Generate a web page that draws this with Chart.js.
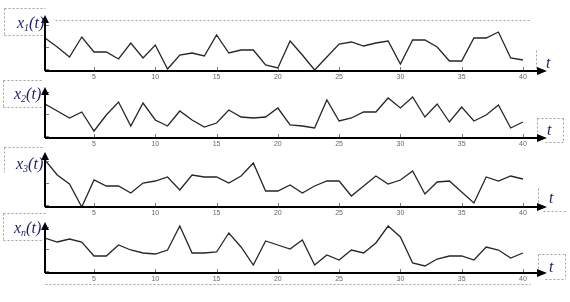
<!DOCTYPE html>
<html>
<head>
<meta charset="utf-8">
<script src="https://cdn.jsdelivr.net/npm/chart.js@4"></script>
<style>
body{margin:0;background:#fff;}
#wrap{position:relative;width:570px;height:302px;overflow:hidden;}
canvas{position:absolute;left:0;top:0;}
.lbl{position:absolute;font-family:'Liberation Serif','DejaVu Serif',serif;font-style:italic;color:#1d1d6b;font-size:16px;line-height:16px;white-space:nowrap;}
.lbl sub{font-size:10px;line-height:0;vertical-align:-3px;}
</style>
</head>
<body>
<div id="wrap">
  <canvas id="c1" width="570" height="302"></canvas>
  <canvas id="c2" width="570" height="302"></canvas>
  <canvas id="c3" width="570" height="302"></canvas>
  <canvas id="c4" width="570" height="302"></canvas>
  <div class="lbl" style="left:17px;top:15px">x<sub>1</sub>(t)</div>
  <div class="lbl" style="left:14px;top:86px">x<sub>2</sub>(t)</div>
  <div class="lbl" style="left:16px;top:156px">x<sub>3</sub>(t)</div>
  <div class="lbl" style="left:14px;top:220px">x<sub>n</sub>(t)</div>
  <div class="lbl" style="left:546px;top:55px">t</div>
  <div class="lbl" style="left:547px;top:122px">t</div>
  <div class="lbl" style="left:549px;top:190px">t</div>
  <div class="lbl" style="left:549px;top:259px">t</div>
</div>
<script>
// time steps
const t = [1,2,3,4,5,6,7,8,9,10,11,12,13,14,15,16,17,18,19,20,
           21,22,23,24,25,26,27,28,29,30,31,32,33,34,35,36,37,38,39,40];
const xTicks = [5,10,15,20,25,30,35,40];
const yMarks = [2,24,46];

// series values (arbitrary units)
const x1 = [33,24,14,34,19,19,12,28,13,26,2,16,18,15,36,18,21,21,6,3,
            30,16,1,14,27,29,25,28,30,7,31,31,24,10,10,33,33,39,13,11];
const x2 = [34,27,20,26,7,23,36,12,35,18,12,27,18,11,15,28,21,20,21,30,
            13,12,10,38,17,20,26,26,40,30,41,21,34,16,31,17,23,33,10,16];
const x3 = [47,32,23,0,27,21,21,14,24,26,30,17,32,30,30,24,31,44,16,16,
            22,14,21,26,26,11,21,31,23,27,36,13,25,26,15,4,30,26,31,28];
const xn = [35,31,34,31,17,17,28,23,20,19,23,47,20,20,21,40,26,8,32,28,
            24,33,8,18,13,23,20,30,47,36,10,7,14,17,17,13,26,23,15,20];

// panel layout: canvas id, series, axis line y, arrow top y, y max, dotted bits
const panels = [
  {id:'c1', data:x1, axis:71, top:15, ymax:56,
   dots:[[4,8,45,8],[4,8,4,35],[4,35,45,35],[55,20,530,20],[536,50,536,70]]},
  {id:'c2', data:x2, axis:138, top:87, ymax:51,
   dots:[[3,80,43,80],[3,80,3,107],[3,107,43,107],[537,118,563,118],[537,118,537,134],[545,142,563,142],[563,118,563,142]]},
  {id:'c3', data:x3, axis:207, top:152, ymax:55,
   dots:[[4,147,43,147],[4,147,4,172],[538,188,538,204],[543,211,567,211]]},
  {id:'c4', data:xn, axis:273, top:222, ymax:51,
   dots:[[3,213,45,213],[3,213,3,240],[3,240,43,240],[45,284,530,284],[538,254,565,254],[538,254,538,268],[545,279,565,279],[565,254,565,279]]}
];

const decor = {
  id: 'decor',
  afterDraw(chart, args, o) {
    const ctx = chart.ctx, a = chart.chartArea;
    const xs = chart.scales.x, ys = chart.scales.y;
    ctx.save();
    ctx.lineWidth = 1;
    ctx.strokeStyle = '#a0a0a0';
    ctx.setLineDash([2, 2]);
    (o.dots || []).forEach(s => {
      ctx.beginPath();
      ctx.moveTo(s[0] + .5, s[1] + .5);
      ctx.lineTo(s[2] + .5, s[3] + .5);
      ctx.stroke();
    });
    ctx.setLineDash([]);
    ctx.strokeStyle = '#777';
    ctx.beginPath();
    xTicks.forEach(v => {
      const x = Math.round(xs.getPixelForValue(v)) + .5;
      ctx.moveTo(x, a.bottom - 4);
      ctx.lineTo(x, a.bottom);
    });
    yMarks.forEach(v => {
      const y = Math.round(ys.getPixelForValue(v)) + .5;
      ctx.moveTo(a.left, y);
      ctx.lineTo(a.left + 4, y);
    });
    ctx.stroke();
    // tick labels under the axis
    ctx.fillStyle = '#666';
    ctx.font = '7px "Liberation Sans", Arial, sans-serif';
    ctx.textAlign = 'center';
    ctx.textBaseline = 'middle';
    xTicks.forEach(v => ctx.fillText(String(v), xs.getPixelForValue(v), a.bottom + 6));
    // axes with arrows
    ctx.strokeStyle = '#000';
    ctx.fillStyle = '#000';
    ctx.lineWidth = 2;
    ctx.beginPath();
    ctx.moveTo(a.left, a.bottom);
    ctx.lineTo(a.right - 6, a.bottom);
    ctx.moveTo(a.left, a.bottom);
    ctx.lineTo(a.left, a.top + 6);
    ctx.stroke();
    ctx.beginPath();
    ctx.moveTo(a.right + 2, a.bottom);
    ctx.lineTo(a.right - 8, a.bottom - 4);
    ctx.lineTo(a.right - 8, a.bottom + 4);
    ctx.fill();
    ctx.beginPath();
    ctx.moveTo(a.left, a.top);
    ctx.lineTo(a.left - 4, a.top + 8);
    ctx.lineTo(a.left + 4, a.top + 8);
    ctx.fill();
    ctx.restore();
  }
};

panels.forEach(p => {
  new Chart(document.getElementById(p.id), {
    type: 'line',
    data: {
      datasets: [{
        data: t.map((v, i) => ({x: v, y: p.data[i]})),
        borderColor: '#262626',
        borderWidth: 1.3,
        pointRadius: 0,
        tension: 0,
        fill: false
      }]
    },
    options: {
      responsive: false,
      animation: false,
      layout: {padding: {left: 45, right: 25, top: p.top, bottom: 302 - p.axis}},
      plugins: {legend: {display: false}, tooltip: {enabled: false}, decor: {dots: p.dots}},
      scales: {
        x: {type: 'linear', min: 1, max: 41.8, display: false},
        y: {min: 0, max: p.ymax, display: false}
      }
    },
    plugins: [decor]
  });
});
</script>
</body>
</html>
